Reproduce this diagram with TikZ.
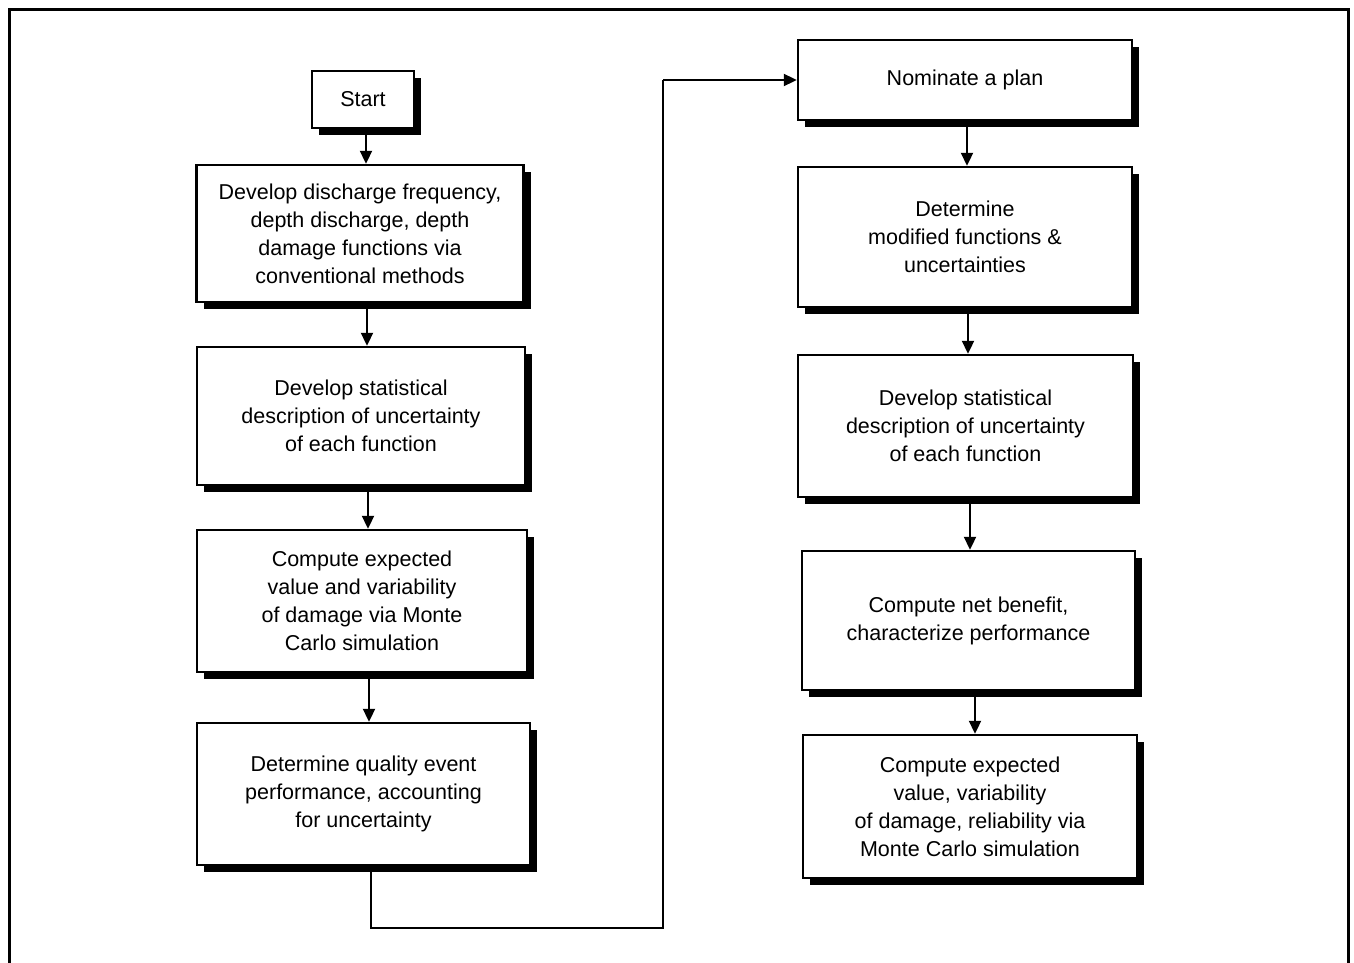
\documentclass[tikz,border=0pt]{standalone}
\usepackage{fontspec}
\setmainfont{Liberation Sans}
\usetikzlibrary{arrows.meta,shadows,calc}
\begin{document}
\begin{tikzpicture}[x=1pt,y=-1pt,
  stepbox/.style={draw=black,line width=2.4pt,fill=white,inner sep=0pt,
    align=center,font=\fontsize{21.5}{28}\selectfont,
    drop shadow={shadow xshift=7pt,shadow yshift=-7pt,fill=black,opacity=1}},
  flow/.style={line width=2pt,-{Triangle[length=13pt,width=12pt]}},
  link/.style={line width=1.8pt}]
\useasboundingbox (0,0) rectangle (1354,963);

% outer frame (open at the bottom)
\draw[line width=3pt] (9,963) -- (9,10) -- (1348,10) -- (1348,963);

% left column
\node[stepbox,minimum width=102pt,minimum height=57pt] (start) at (363,99.5) {Start};
\node[stepbox,minimum width=327pt,minimum height=137pt] (l1) at (360,233.5)
  {Develop discharge frequency,\\depth discharge, depth\\damage functions via\\conventional methods};
\node[stepbox,minimum width=328pt,minimum height=138pt] (l2) at (361,416)
  {Develop statistical\\description of uncertainty\\of each function};
\node[stepbox,minimum width=330pt,minimum height=142pt] (l3) at (362,601)
  {Compute expected\\value and variability\\of damage via Monte\\Carlo simulation};
\node[stepbox,minimum width=333pt,minimum height=142pt] (l4) at (363.5,794)
  {Determine quality event\\performance, accounting\\for uncertainty};

% right column
\node[stepbox,minimum width=334pt,minimum height=80pt] (r1) at (965,80) {Nominate a plan};
\node[stepbox,minimum width=334pt,minimum height=140pt] (r2) at (965,237)
  {Determine\\modified functions \&\\uncertainties};
\node[stepbox,minimum width=335pt,minimum height=142pt] (r3) at (965.5,426)
  {Develop statistical\\description of uncertainty\\of each function};
\node[stepbox,minimum width=333pt,minimum height=139pt] (r4) at (968.5,620.5)
  {Compute net benefit,\\characterize performance};
\node[stepbox,minimum width=334pt,minimum height=143pt] (r5) at (970,806.5)
  {Compute expected\\value, variability\\of damage, reliability via\\Monte Carlo simulation};

% vertical flow arrows
\draw[flow] (start.south -| 366,0) -- (l1.north -| 366,0);
\draw[flow] (l1.south -| 367,0) -- (l2.north -| 367,0);
\draw[flow] (l2.south -| 368,0) -- (l3.north -| 368,0);
\draw[flow] (l3.south -| 369,0) -- (l4.north -| 369,0);
\draw[flow] (r1.south -| 967,0) -- (r2.north -| 967,0);
\draw[flow] (r2.south -| 968,0) -- (r3.north -| 968,0);
\draw[flow] (r3.south -| 970,0) -- (r4.north -| 970,0);
\draw[flow] (r4.south -| 975,0) -- (r5.north -| 975,0);

% return path from the left column to the right column
\coordinate (c1) at (371,928);
\coordinate (c2) at (663,928);
\draw[link] (l4.south -| c1) -- (c1) -- (c2) -- (c2 |- r1.west);
\draw[flow] (c2 |- r1.west) -- (r1.west);
\end{tikzpicture}
\end{document}
